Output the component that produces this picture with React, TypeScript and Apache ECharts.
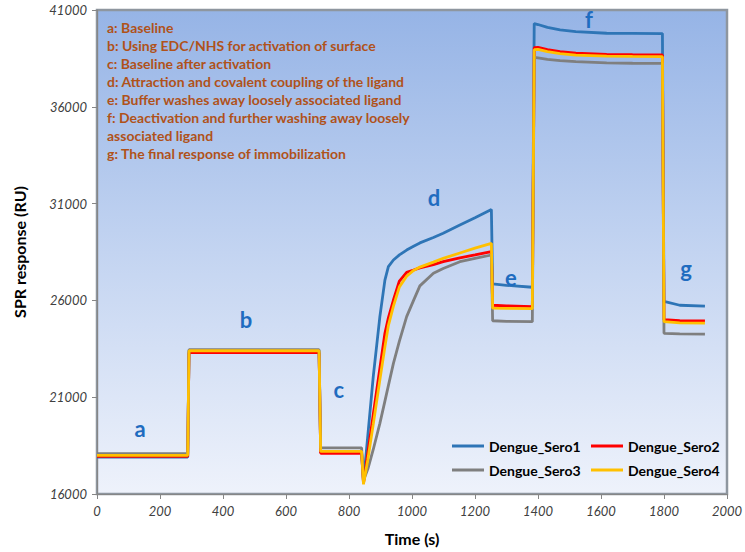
import React, { useEffect, useRef } from "react";
import * as echarts from "echarts";

const times = [0, 288, 292, 705, 710, 840, 846, 860, 877, 898, 914, 925, 941, 960, 983, 1005, 1025, 1068, 1099, 1152, 1200, 1252, 1256, 1300, 1382, 1388, 1400, 1430, 1470, 1520, 1618, 1700, 1795, 1800, 1850, 1930];

const sero1 = [17900, 17900, 23400, 23400, 18150, 18150, 16600, 19070, 22060, 25160, 27050, 27740, 28087, 28350, 28600, 28800, 28970, 29250, 29465, 29890, 30270, 30700, 26850, 26780, 26680, 40300, 40250, 40100, 39970, 39880, 39800, 39790, 39780, 25950, 25750, 25700];
const sero2 = [17950, 17950, 23300, 23300, 18100, 18100, 16550, 18160, 20110, 22500, 24300, 25100, 26020, 27000, 27450, 27570, 27680, 27850, 28000, 28200, 28350, 28515, 25750, 25720, 25680, 39050, 39070, 38950, 38850, 38770, 38710, 38690, 38680, 25000, 24950, 24940];
const sero3 = [18080, 18080, 23450, 23450, 18380, 18380, 16700, 17300, 18300, 19650, 20800, 21600, 22750, 23900, 25160, 26000, 26750, 27400, 27650, 28000, 28170, 28345, 24950, 24920, 24900, 38550, 38530, 38450, 38390, 38330, 38270, 38250, 38245, 24300, 24270, 24260];
const sero4 = [18000, 18000, 23400, 23400, 18200, 18200, 16500, 17800, 19600, 21900, 23600, 24700, 25700, 26700, 27250, 27550, 27720, 27980, 28170, 28450, 28700, 28950, 25600, 25590, 25570, 38950, 38970, 38850, 38750, 38670, 38620, 38600, 38590, 24900, 24840, 24830];

const seriesNames = ["Dengue_Sero1", "Dengue_Sero2", "Dengue_Sero3", "Dengue_Sero4"];
const seriesValues = [sero1, sero2, sero3, sero4];
const seriesColors = ["#2E75B6", "#FF0000", "#7F7F7F", "#FFC000"];

const stepLetters = ["a", "b", "c", "d", "e", "f", "g"];
const letterTimes = [137, 473, 768, 1070, 1314, 1562, 1870];
const letterValues = [19400, 24990, 21420, 31340, 27200, 40535, 27670];

const noteLines = [
  "a: Baseline",
  "b: Using EDC/NHS for activation of surface",
  "c: Baseline after activation",
  "d: Attraction and covalent coupling of the ligand",
  "e: Buffer washes away loosely associated ligand",
  "f: Deactivation and further washing away loosely",
  "associated ligand",
  "g: The final response of immobilization",
];

const yTicks = [16000, 21000, 26000, 31000, 36000, 41000];

const legendPos = [
  { left: 452, top: 439 },
  { left: 591, top: 439 },
  { left: 452, top: 463 },
  { left: 591, top: 463 },
];

export default function App() {
  const ref = useRef<HTMLDivElement>(null);
  useEffect(() => {
    if (!ref.current) return;
    const chart = echarts.init(ref.current, undefined, { renderer: "svg" });
    const lineSeries = seriesNames.map((name, i) => ({
      name,
      type: "line",
      data: times.map((t, k) => [t, seriesValues[i][k]]),
      showSymbol: false,
      symbol: "none",
      smooth: false,
      lineStyle: { color: seriesColors[i], width: 2.8 },
      itemStyle: { color: seriesColors[i] },
      z: 3 + i,
    }));
    const letterSeries = {
      name: "letters",
      type: "scatter",
      symbolSize: 0,
      silent: true,
      itemStyle: { opacity: 1, color: "#1F6CC0" },
      data: stepLetters.map((l, k) => ({ name: l, value: [letterTimes[k], letterValues[k]] })),
      label: {
        show: true,
        position: "inside",
        formatter: (p: any) => p.name,
        color: "#1F6CC0",
        opacity: 1,
        fontFamily: "Lato",
        fontWeight: "bold",
        fontSize: 22,
      },
      z: 10,
    };
    chart.setOption({
      animation: false,
      backgroundColor: "#ffffff",
      grid: {
        left: 97,
        right: 18,
        top: 10,
        bottom: 58,
        containLabel: false,
        outerBoundsMode: "none",
        show: true,
        borderColor: "#8E969F",
        borderWidth: 2.5,
        backgroundColor: new echarts.graphic.LinearGradient(0, 0, 0, 1, [
          { offset: 0, color: "#96B4E6" },
          { offset: 0.5, color: "#C3D4F1" },
          { offset: 1, color: "#EEF2FB" },
        ]),
      },
      legend: legendPos.map((p, i) => ({
        data: [seriesNames[i]],
        left: p.left,
        top: p.top,
        itemWidth: 32,
        itemHeight: 3,
        itemGap: 4,
        icon: "rect",
        padding: 0,
        textStyle: { fontFamily: "Lato", fontSize: 14, color: "#000", fontWeight: "bold" },
      })),
      xAxis: {
        type: "value",
        min: 0,
        max: 2000,
        interval: 200,
        name: "Time (s)",
        nameLocation: "middle",
        nameGap: 36,
        nameTextStyle: { fontFamily: "Lato", fontWeight: "bold", fontSize: 16, color: "#000" },
        splitLine: { show: false },
        axisLine: { show: true, lineStyle: { color: "#868686" } },
        axisTick: { show: true, inside: false, length: 5, lineStyle: { color: "#868686" } },
        axisLabel: {
          fontFamily: "Lato",
          fontStyle: "italic",
          fontSize: 13,
          color: "#404040",
          margin: 10,
          formatter: (v: number) => String(v),
        },
      },
      yAxis: {
        type: "value",
        min: yTicks[0],
        max: yTicks[yTicks.length - 1],
        interval: 5000,
        name: "SPR response (RU)",
        nameLocation: "middle",
        nameGap: 70,
        nameTextStyle: { fontFamily: "Lato", fontWeight: "bold", fontSize: 16, color: "#000" },
        splitLine: { show: false },
        axisLine: { show: true, lineStyle: { color: "#868686" } },
        axisTick: { show: true, inside: false, length: 5, lineStyle: { color: "#868686" } },
        axisLabel: {
          fontFamily: "Lato",
          fontStyle: "italic",
          fontSize: 13,
          color: "#404040",
          margin: 10,
          formatter: (v: number) => String(v),
        },
      },
      graphic: [
        {
          type: "text",
          left: 107,
          top: 18,
          silent: true,
          style: {
            text: noteLines.join("\n"),
            fill: "#B0521A",
            font: "bold 14px Lato",
            lineHeight: 18,
          },
          z: 20,
        },
      ],
      series: [...lineSeries, letterSeries],
    });
    return () => chart.dispose();
  }, []);
  return (
    <div
      ref={ref}
      style={{ position: "absolute", left: 0, top: 0, width: 745, height: 552 }}
    />
  );
}
